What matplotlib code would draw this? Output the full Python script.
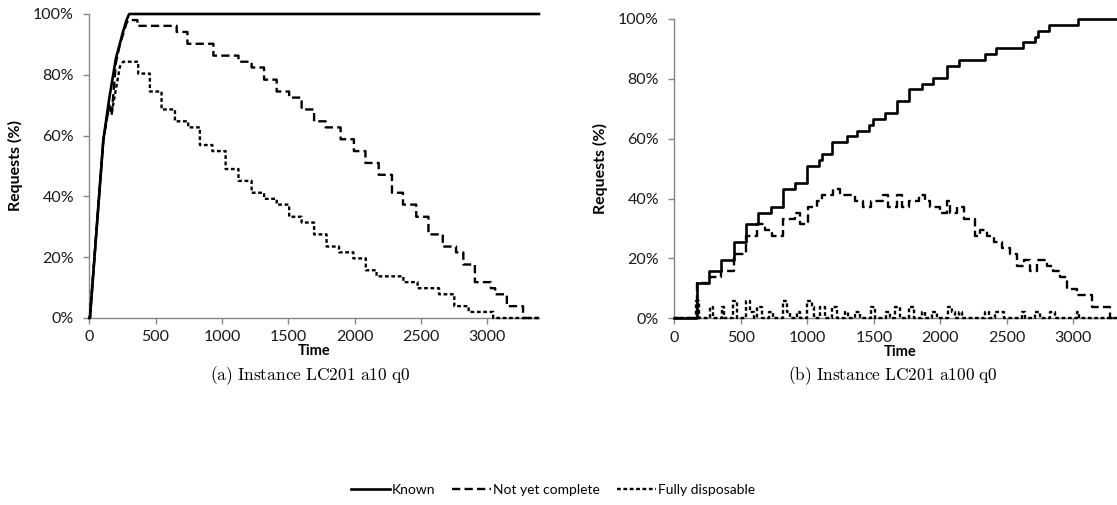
import numpy as np
import matplotlib
matplotlib.use("Agg")
import matplotlib.pyplot as plt
from matplotlib.lines import Line2D

plt.rcParams['font.family'] = ['Lato', 'DejaVu Sans']
plt.rcParams['mathtext.fontset'] = 'cm'

# ---- (a) Instance LC201 a10 q0 ----
# ramp part (plain line) then staircase part
known_a_t = [0, 5, 106, 150, 201, 231, 251, 281, 301, 3390]
known_a_v = [0, 0, 58.5, 72, 85.4, 90.3, 93.6, 98, 100, 100]

nyc_a_ramp_t = [0, 5, 106, 150, 169, 201, 231, 281]
nyc_a_ramp_v = [0, 0, 58.5, 70, 66.7, 84, 90, 97]
nyc_a_t = [296, 363, 659, 740, 936, 1125, 1224, 1318, 1413, 1507, 1601, 1695, 1782, 1895,
           1995, 2082, 2182, 2282, 2365, 2465, 2557, 2665, 2765, 2820, 2907, 3027, 3060,
           3148, 3270, 3390]
nyc_a_v = [98.0, 96.1, 94.1, 90.2, 86.3, 84.3, 82.4, 78.4, 74.5, 72.5, 68.6, 64.7, 62.7, 58.8,
           54.9, 51.0, 47.1, 41.2, 37.3, 33.3, 27.5, 23.5, 21.6, 17.6, 11.8, 9.8, 7.8,
           3.9, 0, 0]

fd_a_ramp_t = [0, 5, 106, 150, 169, 231]
fd_a_ramp_v = [0, 0, 58.5, 70, 67.4, 82.7]
fd_a_t = [256, 369, 457, 545, 646, 746, 834, 928, 1028, 1125, 1224, 1318, 1413, 1507,
          1601, 1695, 1789, 1883, 1991, 2085, 2166, 2368, 2475, 2637, 2752, 2860, 3045, 3390]
fd_a_v = [84.3, 80.4, 74.5, 68.6, 64.7, 62.7, 56.9, 54.9, 49.0, 45.1, 41.2, 39.2, 37.3, 33.3,
          31.4, 27.5, 23.5, 21.6, 19.6, 15.7, 13.7, 11.8, 9.8, 7.8, 3.9, 2.0, 0, 0]

# ---- (b) Instance LC201 a100 q0 ----
known_b_t = [0, 168, 264, 352, 445, 540, 632, 724, 815, 907, 1000, 1088, 1108, 1188, 1296,
             1376, 1466, 1497, 1584, 1677, 1767, 1860, 1948, 2048, 2140, 2336, 2418, 2619,
             2712, 2737, 2817, 3037, 3390]
known_b_v = [0, 11.8, 15.7, 19.6, 25.5, 31.4, 35.3, 37.3, 43.1, 45.1, 51.0, 52.9, 54.9, 58.8,
             60.8, 62.7, 64.7, 66.7, 68.6, 72.5, 76.5, 78.4, 80.4, 84.3, 86.3, 88.2, 90.2,
             92.2, 94.1, 96.1, 98.0, 100, 100]

nyc_b_t = [0, 168, 265, 350, 445, 540, 625, 682, 732, 820, 908, 945, 1005, 1070, 1107, 1195,
           1245, 1357, 1420, 1482, 1570, 1607, 1675, 1712, 1762, 1837, 1887, 1925, 2000, 2050,
           2075, 2125, 2175, 2262, 2300, 2350, 2400, 2462, 2525, 2575, 2625, 2675, 2725, 2800,
           2850, 2900, 2950, 3025, 3140, 3275, 3390]
nyc_b_v = [0, 11.8, 13.7, 15.7, 21.6, 27.5, 31.4, 29.4, 27.5, 33.3, 35.3, 31.4, 37.3, 39.2,
           41.2, 43.1, 41.2, 39.2, 37.3, 39.2, 41.2, 37.3, 41.2, 37.3, 39.2, 41.2, 39.2, 37.3,
           35.3, 39.2, 35.3, 37.3, 33.3, 27.5, 29.4, 27.5, 25.5, 23.5, 21.6, 17.6, 19.6, 15.7,
           19.6, 17.6, 15.7, 13.7, 9.8, 7.8, 3.9, 0, 0]

fd_b_t = [0, 165, 182, 265, 290, 357, 375, 440, 470, 540, 570, 600, 625, 657, 715, 740, 820,
          850, 870, 920, 945, 1000, 1032, 1050, 1095, 1132, 1182, 1220, 1282, 1307, 1357, 1395,
          1482, 1507, 1595, 1620, 1662, 1700, 1762, 1805, 1862, 1887, 1937, 1975, 2055, 2087,
          2110, 2137, 2162, 2337, 2362, 2412, 2475, 2612, 2637, 2712, 2750, 2825, 2862, 3025,
          3045, 3390]
fd_b_v = [0, 5.9, 0, 3.9, 0, 3.9, 0, 5.9, 0, 5.9, 2.0, 0, 3.9, 0, 2.0, 0, 5.9, 2.0, 0, 2.0,
          0, 5.9, 3.9, 0, 3.9, 0, 3.9, 0, 2.0, 0, 2.0, 0, 3.9, 0, 2.0, 0, 3.9, 0, 3.9, 0, 2.0,
          0, 2.0, 0, 3.9, 2.0, 0, 2.0, 0, 2.0, 0, 2.0, 0, 2.0, 0, 2.0, 0, 2.0, 0, 2.0, 0, 0]

x_ticks = [0, 500, 1000, 1500, 2000, 2500, 3000]
y_ticks = [0, 20, 40, 60, 80, 100]
labels = ['Known', 'Not yet complete', 'Fully disposable']


def stairs(t, v, ramp_t=(), ramp_v=()):
    t = np.asarray(t, float)
    v = np.asarray(v, float)
    x = np.concatenate([np.asarray(ramp_t, float), np.repeat(t, 2)[1:]])
    y = np.concatenate([np.asarray(ramp_v, float), np.repeat(v, 2)[:-1]])
    return x, y


styles = {
    'known': dict(color='black', lw=1.9, linestyle='-'),
    'nyc': dict(color='black', lw=1.7, linestyle=(0, (3.5, 1.8))),
    'fd': dict(color='black', lw=1.7, linestyle=(0, (1.6, 1.1))),
}
grey = '#868686'


def style_axes(ax):
    ax.set_xlim(0, 3390)
    ax.set_ylim(0, 100)
    ax.set_xticks(x_ticks)
    ax.set_yticks(y_ticks)
    ax.set_yticklabels(['%d%%' % y for y in y_ticks])
    for s in ['top', 'right']:
        ax.spines[s].set_visible(False)
    for s in ['left', 'bottom']:
        ax.spines[s].set_color(grey)
        ax.spines[s].set_linewidth(1.0)
    ax.tick_params(axis='both', direction='out', length=4, width=1.0, color=grey,
                   labelsize=11.5, labelcolor='#1a1a1a')
    ax.tick_params(axis='y', pad=7)
    ax.tick_params(axis='x', pad=5)
    ax.set_xlabel('Time', fontsize=10.5, fontweight='bold', labelpad=0)
    ax.set_ylabel('Requests (%)', fontsize=11.5, fontweight='bold', labelpad=7)
    for sp in ax.spines.values():
        sp.set_zorder(0)


fig = plt.figure(figsize=(11.17, 5.05), dpi=100)

ax1 = fig.add_axes([0.0799, 0.3703, 0.4026, 0.602])
ax1.plot(known_a_t, known_a_v, **styles['known'], clip_on=False)
x, y = stairs(nyc_a_t, nyc_a_v, nyc_a_ramp_t, nyc_a_ramp_v)
ax1.plot(x, y, **styles['nyc'], clip_on=False)
x, y = stairs(fd_a_t, fd_a_v, fd_a_ramp_t, fd_a_ramp_v)
ax1.plot(x, y, **styles['fd'], clip_on=False)
style_axes(ax1)

ax2 = fig.add_axes([0.6037, 0.3697, 0.4037, 0.5927])
x, y = stairs(known_b_t, known_b_v)
ax2.plot(x, y, **styles['known'], clip_on=False)
x, y = stairs(nyc_b_t, nyc_b_v)
ax2.plot(x, y, **styles['nyc'], clip_on=False)
x, y = stairs(fd_b_t, fd_b_v)
ax2.plot(x, y, **styles['fd'], clip_on=False)
style_axes(ax2)

fig.text(310 / 1117, 1 - 376 / 505, r'$\mathrm{(a)\ Instance\ LC201\ a10\ q0}$',
         ha='center', va='center', fontsize=12.5)
fig.text(893 / 1117, 1 - 376 / 505, r'$\mathrm{(b)\ Instance\ LC201\ a100\ q0}$',
         ha='center', va='center', fontsize=12.5)

handles = [Line2D([], [], **styles['known']),
           Line2D([], [], **styles['nyc']),
           Line2D([], [], **styles['fd'])]
fig.legend(handles, labels, loc='center', bbox_to_anchor=(553 / 1117, 1 - 490 / 505),
           ncol=3, frameon=False, fontsize=10, handlelength=2.8, handletextpad=0.15,
           columnspacing=1.2)

fig.savefig('out.png', dpi=100)
